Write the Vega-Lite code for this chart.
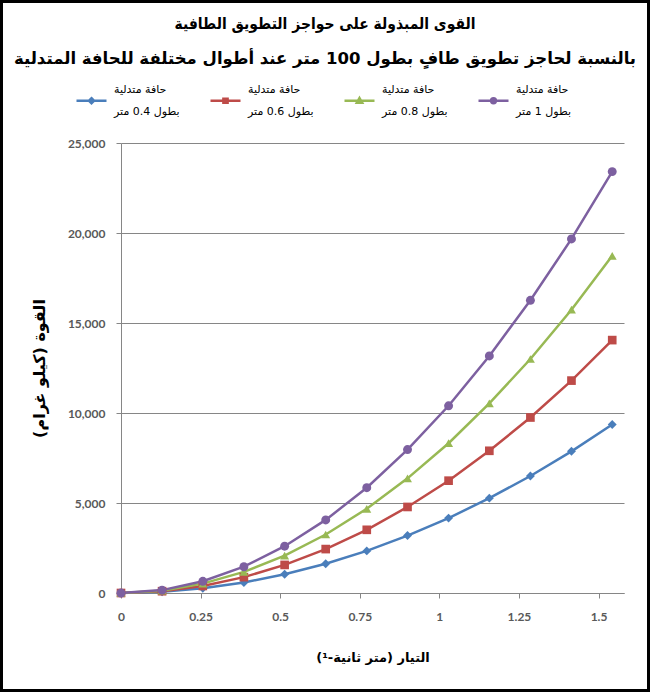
{
  "$schema": "https://vega.github.io/schema/vega-lite/v6.json",
  "width": 650,
  "height": 692,
  "padding": 0,
  "autosize": "none",
  "background": "white",
  "config": {
    "view": {"stroke": "#000000", "strokeWidth": 6},
    "axis": {"labelFont": "Lato", "labelFontWeight": "bold", "labelColor": "#595959", "labelFontSize": 12, "domainColor": "#868686", "tickColor": "#868686", "gridColor": "#868686", "titleFont": "DejaVu Sans", "titleFontWeight": "bold", "titleColor": "#000000", "titleFontSize": 14}
  },
  "title": {
    "text": "القوى المبذولة على حواجز التطويق الطافية",
    "subtitle": "بالنسبة لحاجز تطويق طافٍ بطول 100 متر عند أطوال مختلفة للحافة المتدلية",
    "anchor": "middle",
    "frame": "group",
    "offset": -67,
    "font": "DejaVu Sans Condensed",
    "fontSize": 15.5,
    "fontWeight": "bold",
    "color": "#000000",
    "subtitleFont": "DejaVu Sans",
    "subtitleFontSize": 16.5,
    "subtitleFontWeight": "bold",
    "subtitleColor": "#000000",
    "subtitlePadding": 18
  },
  "datasets": {"d": [
    {"v": 0, "F": 0, "s": "حافة متدلية|بطول 0.4 متر"},
    {"v": 0.129, "F": 65, "s": "حافة متدلية|بطول 0.4 متر"},
    {"v": 0.257, "F": 260, "s": "حافة متدلية|بطول 0.4 متر"},
    {"v": 0.386, "F": 585, "s": "حافة متدلية|بطول 0.4 متر"},
    {"v": 0.514, "F": 1040, "s": "حافة متدلية|بطول 0.4 متر"},
    {"v": 0.643, "F": 1625, "s": "حافة متدلية|بطول 0.4 متر"},
    {"v": 0.772, "F": 2340, "s": "حافة متدلية|بطول 0.4 متر"},
    {"v": 0.9, "F": 3190, "s": "حافة متدلية|بطول 0.4 متر"},
    {"v": 1.029, "F": 4160, "s": "حافة متدلية|بطول 0.4 متر"},
    {"v": 1.157, "F": 5270, "s": "حافة متدلية|بطول 0.4 متر"},
    {"v": 1.286, "F": 6500, "s": "حافة متدلية|بطول 0.4 متر"},
    {"v": 1.415, "F": 7870, "s": "حافة متدلية|بطول 0.4 متر"},
    {"v": 1.543, "F": 9360, "s": "حافة متدلية|بطول 0.4 متر"},
    {"v": 0, "F": 0, "s": "حافة متدلية|بطول 0.6 متر"},
    {"v": 0.129, "F": 100, "s": "حافة متدلية|بطول 0.6 متر"},
    {"v": 0.257, "F": 390, "s": "حافة متدلية|بطول 0.6 متر"},
    {"v": 0.386, "F": 880, "s": "حافة متدلية|بطول 0.6 متر"},
    {"v": 0.514, "F": 1560, "s": "حافة متدلية|بطول 0.6 متر"},
    {"v": 0.643, "F": 2440, "s": "حافة متدلية|بطول 0.6 متر"},
    {"v": 0.772, "F": 3510, "s": "حافة متدلية|بطول 0.6 متر"},
    {"v": 0.9, "F": 4780, "s": "حافة متدلية|بطول 0.6 متر"},
    {"v": 1.029, "F": 6240, "s": "حافة متدلية|بطول 0.6 متر"},
    {"v": 1.157, "F": 7900, "s": "حافة متدلية|بطول 0.6 متر"},
    {"v": 1.286, "F": 9750, "s": "حافة متدلية|بطول 0.6 متر"},
    {"v": 1.415, "F": 11800, "s": "حافة متدلية|بطول 0.6 متر"},
    {"v": 1.543, "F": 14050, "s": "حافة متدلية|بطول 0.6 متر"},
    {"v": 0, "F": 0, "s": "حافة متدلية|بطول 0.8 متر"},
    {"v": 0.129, "F": 130, "s": "حافة متدلية|بطول 0.8 متر"},
    {"v": 0.257, "F": 520, "s": "حافة متدلية|بطول 0.8 متر"},
    {"v": 0.386, "F": 1170, "s": "حافة متدلية|بطول 0.8 متر"},
    {"v": 0.514, "F": 2080, "s": "حافة متدلية|بطول 0.8 متر"},
    {"v": 0.643, "F": 3250, "s": "حافة متدلية|بطول 0.8 متر"},
    {"v": 0.772, "F": 4680, "s": "حافة متدلية|بطول 0.8 متر"},
    {"v": 0.9, "F": 6370, "s": "حافة متدلية|بطول 0.8 متر"},
    {"v": 1.029, "F": 8320, "s": "حافة متدلية|بطول 0.8 متر"},
    {"v": 1.157, "F": 10530, "s": "حافة متدلية|بطول 0.8 متر"},
    {"v": 1.286, "F": 13000, "s": "حافة متدلية|بطول 0.8 متر"},
    {"v": 1.415, "F": 15740, "s": "حافة متدلية|بطول 0.8 متر"},
    {"v": 1.543, "F": 18730, "s": "حافة متدلية|بطول 0.8 متر"},
    {"v": 0, "F": 0, "s": "حافة متدلية|بطول  1 متر"},
    {"v": 0.129, "F": 160, "s": "حافة متدلية|بطول  1 متر"},
    {"v": 0.257, "F": 650, "s": "حافة متدلية|بطول  1 متر"},
    {"v": 0.386, "F": 1460, "s": "حافة متدلية|بطول  1 متر"},
    {"v": 0.514, "F": 2600, "s": "حافة متدلية|بطول  1 متر"},
    {"v": 0.643, "F": 4060, "s": "حافة متدلية|بطول  1 متر"},
    {"v": 0.772, "F": 5850, "s": "حافة متدلية|بطول  1 متر"},
    {"v": 0.9, "F": 7970, "s": "حافة متدلية|بطول  1 متر"},
    {"v": 1.029, "F": 10400, "s": "حافة متدلية|بطول  1 متر"},
    {"v": 1.157, "F": 13170, "s": "حافة متدلية|بطول  1 متر"},
    {"v": 1.286, "F": 16260, "s": "حافة متدلية|بطول  1 متر"},
    {"v": 1.415, "F": 19670, "s": "حافة متدلية|بطول  1 متر"},
    {"v": 1.543, "F": 23410, "s": "حافة متدلية|بطول  1 متر"}
  ]},
  "data": {"name": "d"},
  "encoding": {
    "x": {
      "field": "v", "type": "quantitative",
      "scale": {"domain": [0, 1.58], "range": [121, 624], "nice": false, "zero": false},
      "axis": {"orient": "bottom", "offset": -99, "values": [0, 0.25, 0.5, 0.75, 1, 1.25, 1.5], "format": ".2~f", "grid": false, "tickSize": 5, "labelPadding": 13, "labelFlush": false, "title": "التيار (متر ثانية-¹)", "titleFontSize": 13, "titlePadding": 29}
    },
    "y": {
      "field": "F", "type": "quantitative",
      "scale": {"domain": [0, 25000], "range": [593, 143], "nice": false, "zero": true},
      "axis": {"orient": "left", "offset": -121, "values": [0, 5000, 10000, 15000, 20000, 25000], "format": ",.0f", "grid": true, "tickSize": 5, "labelPadding": 11, "title": "القوة (كيلو غرام)", "titleFontSize": 16, "titlePadding": 20}
    },
    "color": {
      "field": "s", "type": "nominal",
      "scale": {
        "domain": ["حافة متدلية|بطول 0.4 متر", "حافة متدلية|بطول 0.6 متر", "حافة متدلية|بطول 0.8 متر", "حافة متدلية|بطول  1 متر"],
        "range": ["#4A7EBB", "#BE4B48", "#98B954", "#7D60A0"]
      },
      "legend": {
        "orient": "none", "legendX": 75, "legendY": 84, "direction": "horizontal", "columns": 4,
        "title": null, "padding": 0, "columnPadding": 25, "symbolSize": 900, "symbolStrokeWidth": 2.5,
        "labelFont": "DejaVu Sans", "labelFontSize": 11, "labelColor": "#000000", "labelOffset": 6,
        "labelExpr": "split(datum.label, '|')",
        "encode": {
          "symbols": {"update": {
            "shape": {"signal": "indexof(datum.value, '0.4') >= 0 ? 'M-1,0H1M0,-0.17L0.17,0L0,0.17L-0.17,0Z' : indexof(datum.value, '0.6') >= 0 ? 'M-1,0H1M-0.14,-0.14H0.14V0.14H-0.14Z' : indexof(datum.value, '0.8') >= 0 ? 'M-1,0H1M0,-0.18L0.18,0.14L-0.18,0.14Z' : 'M-1,0H1M-0.16,0A0.16,0.16 0 1,0 0.16,0A0.16,0.16 0 1,0 -0.16,0Z'"},
            "fill": {"signal": "scale('color', datum.value)"},
            "stroke": {"signal": "scale('color', datum.value)"},
            "strokeWidth": {"value": 2.5},
            "opacity": {"value": 1}
          }},
          "labels": {"update": {"lineHeight": {"value": 22}, "dy": {"value": -11}}}
        }
      }
    }
  },
  "layer": [
    {"mark": {"type": "line", "strokeWidth": 2.5}, "encoding": {"detail": {"field": "s"}}},
    {"transform": [{"filter": "indexof(datum.s, '0.4') >= 0"}], "mark": {"type": "point", "filled": true, "opacity": 1, "size": 80, "shape": "diamond"}},
    {"transform": [{"filter": "indexof(datum.s, '0.6') >= 0"}], "mark": {"type": "point", "filled": true, "opacity": 1, "size": 75, "shape": "square"}},
    {"transform": [{"filter": "indexof(datum.s, '0.8') >= 0"}], "mark": {"type": "point", "filled": true, "opacity": 1, "size": 80, "shape": "triangle-up"}},
    {"transform": [{"filter": "indexof(datum.s, ' 1 ') >= 0"}], "mark": {"type": "point", "filled": true, "opacity": 1, "size": 80, "shape": "circle"}}
  ]
}
